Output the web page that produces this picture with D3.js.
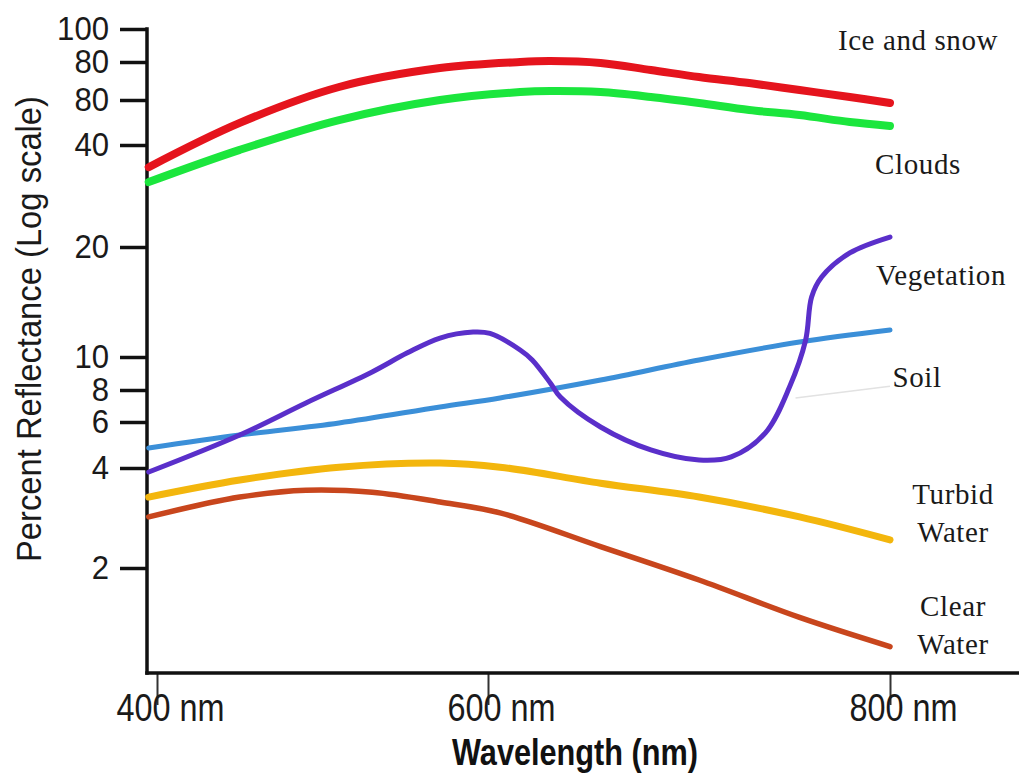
<!DOCTYPE html>
<html>
<head>
<meta charset="utf-8">
<script src="https://cdn.jsdelivr.net/npm/d3@7"></script>
<style>
  body { margin: 0; background: #fff; }
  .sans { font-family: "Liberation Sans Narrow", "Arial Narrow", "Liberation Sans", Arial, sans-serif; }
  .serif { font-family: "Liberation Serif", "Times New Roman", serif; }
</style>
</head>
<body>
<div id="chart"></div>
<script>
// tick values of the (hand drawn) log axis, and the labels printed on it
var yTickValues = [2, 4, 6, 8, 10, 20, 40, 60, 80, 100]
var yTickLabels = ["2", "4", "6", "8", "10", "20", "40", "80", "80", "100"]
var xTickValues = [400, 600, 800]

// [wavelength nm, percent reflectance]
var iceSnow = [[395,34.4],[450,48.8],[510,66.2],[571,76.4],[616,80],[631,80.5],[656,79.4],[681,75.3],[705,71.4],[730,68.2],[755,64.7],[780,61.4],[800,58.4]]
var clouds = [[395,31.1],[450,38.7],[510,50.1],[571,60],[616,63.7],[631,64.2],[656,63.7],[681,61.4],[705,58.4],[730,54.8],[755,52.4],[780,49.2],[800,47.5]]
var vegetation = [[395,3.89],[450,5.35],[490,7.12],[530,9.04],[551,10.25],[571,11.27],[591,11.7],[601,11.6],[616,10.45],[622,9.8],[631,8.39],[636,7.51],[656,5.74],[681,4.69],[705,4.29],[721,4.41],[738,5.45],[750,8.16],[758,11.1],[761,14.6],[766,16.55],[780,19.26],[800,21.4]]
var soil = [[395,4.77],[450,5.35],[510,5.95],[571,6.87],[606,7.45],[656,8.56],[705,9.8],[755,10.99],[800,11.85]]
var turbidWater = [[395,3.27],[450,3.68],[510,4.03],[571,4.18],[606,4.03],[656,3.6],[705,3.27],[755,2.85],[800,2.43]]
var clearWater = [[395,2.85],[450,3.27],[490,3.43],[530,3.38],[571,3.16],[606,2.93],[656,2.32],[705,1.84],[755,1.42],[800,1.16]]
var soilLeader = [[753,7.45],[800,8.2]]

var seriesNames = ["Ice and snow", "Clouds", "Vegetation", "Soil", "Turbid Water", "Clear Water"]

// layout
var W = 1019, H = 776
var axisX = 147, axisY = 673
var xTickPx = [157, 488, 890]
var yTickPx = [568, 468, 422, 390, 357, 247, 145, 100, 62, 29]
// the reference uses a condensed sans face; squeeze glyphs to this width per character
var digitW = 17.3

var svg = d3.select('#chart').append('svg')
	.attr('width', W)
	.attr('height', H)
	.style('background', '#fff')

var x = d3.scaleLinear().domain(xTickValues).range(xTickPx)
var yLog = d3.scaleLinear().domain(yTickValues.map(Math.log10)).range(yTickPx)
var y = function(v){ return yLog(Math.log10(v)) }

// y axis
var yAxis = svg.append('g')
	.attr('class', 'sans')
	.attr('transform', 'translate(' + axisX + ',0)')
	.call(d3.axisLeft(yLog)
		.tickValues(yTickValues.map(Math.log10))
		.tickFormat(function(d, i){ return yTickLabels[i] })
		.tickSize(27)
		.tickPadding(11))
yAxis.select('.domain').remove()
yAxis.selectAll('line').attr('stroke', '#111').attr('stroke-width', 3.5)
yAxis.selectAll('text')
	.attr('font-size', 34)
	.attr('fill', '#1a1a1a')
	.attr('dy', '0.3em')
	.attr('font-family', null)
	.attr('textLength', function(){ return this.textContent.length * digitW })
	.attr('lengthAdjust', 'spacingAndGlyphs')

svg.append('line')
	.attr('x1', axisX).attr('x2', axisX)
	.attr('y1', yTickPx[yTickPx.length - 1] - 1.75).attr('y2', axisY + 1.75)
	.attr('stroke', '#111').attr('stroke-width', 3.5)

// x axis
var xAxis = svg.append('g')
	.attr('class', 'sans')
	.attr('transform', 'translate(0,' + axisY + ')')
	.call(d3.axisBottom(x)
		.tickValues(xTickValues)
		.tickFormat(function(d){ return d + ' nm' })
		.tickSize(32)
		.tickPadding(-13))
xAxis.select('.domain').remove()
xAxis.selectAll('line').attr('stroke', '#333').attr('stroke-width', 2)
xAxis.selectAll('text')
	.attr('font-size', 38)
	.attr('fill', '#1a1a1a')
	.attr('dx', 13)
	.attr('dy', '0.75em')
	.attr('textLength', 108)
	.attr('lengthAdjust', 'spacingAndGlyphs')

svg.append('line')
	.attr('x1', axisX - 1.75).attr('x2', W)
	.attr('y1', axisY).attr('y2', axisY)
	.attr('stroke', '#111').attr('stroke-width', 3.5)

// axis titles
svg.append('text')
	.attr('class', 'sans')
	.attr('transform', 'translate(41,329) rotate(-90)')
	.attr('text-anchor', 'middle')
	.attr('font-size', 35)
	.attr('fill', '#1a1a1a')
	.attr('textLength', 466)
	.attr('lengthAdjust', 'spacingAndGlyphs')
	.text('Percent Reflectance (Log scale)')

svg.append('text')
	.attr('class', 'sans')
	.attr('x', 575).attr('y', 765)
	.attr('text-anchor', 'middle')
	.attr('font-size', 36)
	.attr('font-weight', 'bold')
	.attr('fill', '#111')
	.attr('textLength', 246)
	.attr('lengthAdjust', 'spacingAndGlyphs')
	.text('Wavelength (nm)')

// curves
var line = d3.line()
	.x(function(d){ return x(d[0]) })
	.y(function(d){ return y(d[1]) })
	.curve(d3.curveCatmullRom.alpha(0.5))

svg.append('path')
	.datum(soilLeader)
	.attr('d', line)
	.attr('fill', 'none')
	.attr('stroke', '#e2e2e2')
	.attr('stroke-width', 1.5)

var series = [
	{data: iceSnow, color: '#e5141d', width: 8},
	{data: clouds, color: '#1be63d', width: 8},
	{data: soil, color: '#3b8fd8', width: 5},
	{data: turbidWater, color: '#f3b60d', width: 7},
	{data: clearWater, color: '#c8461d', width: 5.5},
	{data: vegetation, color: '#5a2fca', width: 5}
]

svg.selectAll('.curve')
	.data(series)
	.enter()
	.append('path')
	.attr('class', 'curve')
	.attr('d', function(d){ return line(d.data) })
	.attr('fill', 'none')
	.attr('stroke', function(d){ return d.color })
	.attr('stroke-width', function(d){ return d.width })
	.attr('stroke-linecap', 'round')
	.attr('stroke-linejoin', 'round')

// series labels (right margin)
var labelPos = [
	{lines: ["Ice and snow"], x: 918, y: 50},
	{lines: ["Clouds"], x: 918, y: 174},
	{lines: ["Vegetation"], x: 941, y: 285},
	{lines: ["Soil"], x: 917, y: 387},
	{lines: ["Turbid", "Water"], x: 953, y: 504},
	{lines: ["Clear", "Water"], x: 953, y: 616}
]

var labels = svg.selectAll('.series-label')
	.data(labelPos)
	.enter()
	.append('text')
	.attr('class', 'series-label serif')
	.attr('text-anchor', 'middle')
	.attr('font-size', 29)
	.attr('letter-spacing', 0.6)
	.attr('fill', '#1a1a1a')
	.attr('x', function(d){ return d.x })
	.attr('y', function(d){ return d.y })

labels.selectAll('tspan')
	.data(function(d){ return d.lines.map(function(t){ return {t: t, x: d.x} }) })
	.enter()
	.append('tspan')
	.attr('x', function(d){ return d.x })
	.attr('dy', function(d, i){ return i == 0 ? 0 : 38 })
	.text(function(d){ return d.t })
</script>
</body>
</html>
